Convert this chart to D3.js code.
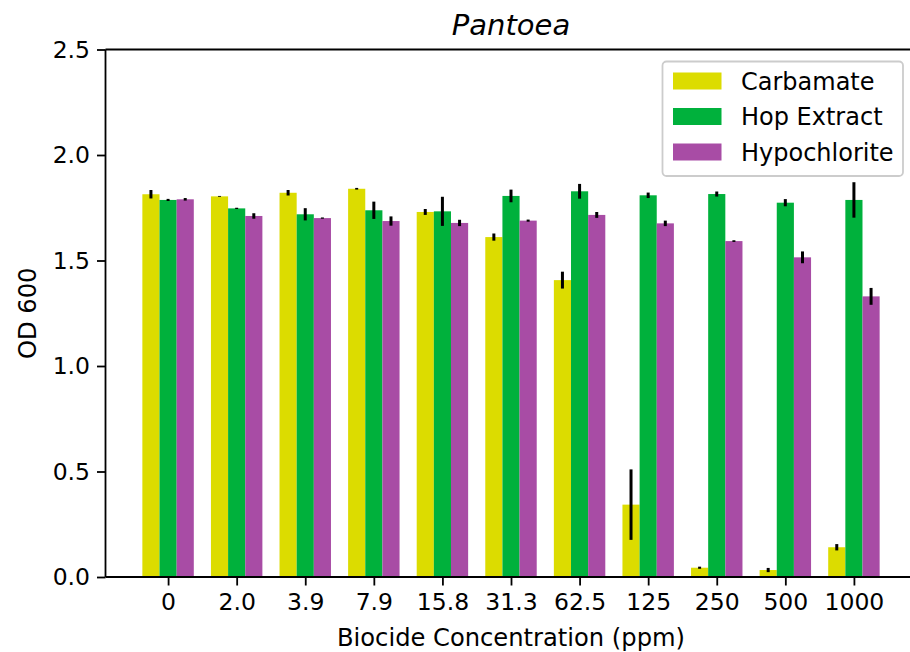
<!DOCTYPE html>
<html>
<head>
<meta charset="utf-8">
<script src="https://cdn.jsdelivr.net/npm/d3@7"></script>
<style>
  body { margin: 0; background: #fff; }
  text { font-family: "DejaVu Sans", sans-serif; fill: #000; }
</style>
</head>
<body>
<script>
var categories = ["0", "2.0", "3.9", "7.9", "15.8", "31.3", "62.5", "125", "250", "500", "1000"];
var seriesNames = ["Carbamate", "Hop Extract", "Hypochlorite"];
var carbamate = [1.814, 1.804, 1.821, 1.840, 1.730, 1.611, 1.407, 0.343, 0.044, 0.033, 0.141];
var carbamateErr = [0.020, 0.002, 0.013, 0.004, 0.014, 0.017, 0.040, 0.167, 0.005, 0.010, 0.015];
var hop = [1.787, 1.747, 1.719, 1.738, 1.733, 1.806, 1.828, 1.809, 1.815, 1.774, 1.787];
var hopErr = [0.005, 0.003, 0.029, 0.041, 0.069, 0.030, 0.035, 0.013, 0.012, 0.017, 0.084];
var hypo = [1.790, 1.711, 1.701, 1.687, 1.678, 1.689, 1.716, 1.676, 1.592, 1.515, 1.330];
var hypoErr = [0.006, 0.013, 0.003, 0.022, 0.015, 0.005, 0.014, 0.013, 0.004, 0.028, 0.040];
var yTicks = [0, 0.5, 1.0, 1.5, 2.0, 2.5];
var colors = ["#dcdc00", "#00b13c", "#a84ca5"];

var w = 910, h = 652;
var mLeft = 105.5, mRight = 916.5, mTop = 49.5, mBottom = 577;

var svg = d3.select("body").append("svg")
    .attr("width", w)
    .attr("height", h);

// numeric x scale like matplotlib: bars at i, width 0.25
var x = d3.scaleLinear()
    .domain([-0.9125, categories.length - 1 + 0.9125])
    .range([mLeft, mRight]);
var y = d3.scaleLinear()
    .domain([0, 2.5])
    .range([mBottom, mTop]);

var series = [
    { name: seriesNames[0], vals: carbamate, err: carbamateErr, off: -0.25 },
    { name: seriesNames[1], vals: hop, err: hopErr, off: 0 },
    { name: seriesNames[2], vals: hypo, err: hypoErr, off: 0.25 }
];
var bw = 0.25;

series.forEach(function (s, k) {
    var g = svg.append("g");
    g.selectAll("rect")
        .data(s.vals)
        .enter()
        .append("rect")
        .attr("x", function (d, i) { return x(i + s.off - bw / 2); })
        .attr("width", function () { return x(bw) - x(0); })
        .attr("y", function (d) { return y(d); })
        .attr("height", function (d) { return y(0) - y(d); })
        .attr("fill", colors[k]);
});

// error bars on top
series.forEach(function (s) {
    svg.append("g").selectAll("line")
        .data(s.vals)
        .enter()
        .append("line")
        .attr("x1", function (d, i) { return x(i + s.off); })
        .attr("x2", function (d, i) { return x(i + s.off); })
        .attr("y1", function (d, i) { return y(d - s.err[i]); })
        .attr("y2", function (d, i) { return y(d + s.err[i]); })
        .attr("stroke", "#000")
        .attr("stroke-width", 3);
});

// axes
var xAxis = d3.axisBottom(x)
    .tickValues(d3.range(categories.length))
    .tickFormat(function (d) { return categories[d]; })
    .tickSize(8.5)
    .tickPadding(6)
    .tickSizeOuter(0);
var gx = svg.append("g")
    .attr("transform", "translate(0," + mBottom + ")")
    .call(xAxis);
gx.selectAll("text").style("font-size", "23.5px").attr("dy", "0.8em");

var yAxis = d3.axisLeft(y)
    .tickValues(yTicks)
    .tickFormat(d3.format(".1f"))
    .tickSize(8.5)
    .tickPadding(7)
    .tickSizeOuter(0);
var gy = svg.append("g")
    .attr("transform", "translate(" + mLeft + ",0)")
    .call(yAxis);
gy.selectAll("text").style("font-size", "23.5px");

svg.selectAll(".domain").remove();
svg.selectAll(".tick line").attr("stroke", "#000").attr("stroke-width", 1.8);

// spines
[[mLeft, mTop, mLeft, mBottom], [mLeft, mBottom, mRight, mBottom],
 [mLeft, mTop, mRight, mTop], [mRight, mTop, mRight, mBottom]].forEach(function (l) {
    svg.append("line")
        .attr("x1", l[0]).attr("y1", l[1]).attr("x2", l[2]).attr("y2", l[3])
        .attr("stroke", "#000").attr("stroke-width", 1.8);
});

// title and labels
svg.append("text")
    .attr("x", (mLeft + mRight) / 2)
    .attr("y", 35)
    .attr("text-anchor", "middle")
    .style("font-size", "29px")
    .style("font-style", "italic")
    .text("Pantoea");

svg.append("text")
    .attr("x", (mLeft + mRight) / 2)
    .attr("y", 646)
    .attr("text-anchor", "middle")
    .style("font-size", "24.2px")
    .text("Biocide Concentration (ppm)");

svg.append("text")
    .attr("transform", "translate(36," + ((mTop + mBottom) / 2) + ") rotate(-90)")
    .attr("text-anchor", "middle")
    .style("font-size", "24.2px")
    .text("OD 600");

// legend
var lg = svg.append("g");
lg.append("rect")
    .attr("x", 662.5).attr("y", 61.5)
    .attr("width", 240.5).attr("height", 114.5)
    .attr("rx", 4)
    .attr("fill", "#fff")
    .attr("fill-opacity", 0.8)
    .attr("stroke", "#ccc")
    .attr("stroke-width", 1.8);
lg.selectAll("rect.sw")
    .data(seriesNames)
    .enter()
    .append("rect")
    .attr("class", "sw")
    .attr("x", 673)
    .attr("y", function (d, i) { return 72.5 + i * 35.5; })
    .attr("width", 48.5)
    .attr("height", 17)
    .attr("fill", function (d, i) { return colors[i]; });
lg.selectAll("text")
    .data(seriesNames)
    .enter()
    .append("text")
    .attr("x", 741)
    .attr("y", function (d, i) { return 81 + i * 35.5; })
    .attr("dy", "0.36em")
    .style("font-size", "24px")
    .text(function (d) { return d; });
</script>
</body>
</html>
